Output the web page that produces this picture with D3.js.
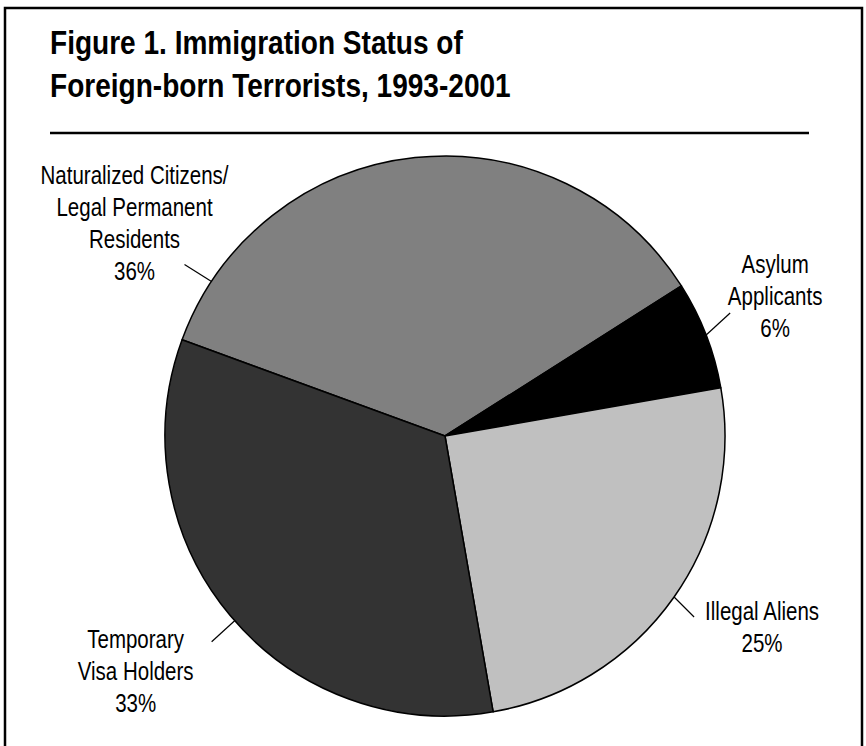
<!DOCTYPE html>
<html>
<head>
<meta charset="utf-8">
<script src="https://cdn.jsdelivr.net/npm/d3@7"></script>
<style>
  html, body { margin: 0; padding: 0; background: #fff; }
  svg { display: block; }
</style>
</head>
<body>
<div id="graph-container"></div>
<script>

// ---- data ----
var categories = ['Naturalized Citizens/|Legal Permanent|Residents', 'Asylum|Applicants', 'Illegal Aliens', 'Temporary|Visa Holders'];
var counts = [17, 3, 12, 16];
var pct_labels = ['36%', '6%', '25%', '33%'];
var fills = ['#808080', '#000000', '#c0c0c0', '#333333'];

var title_lines = ['Figure 1. Immigration Status of', 'Foreign-born Terrorists, 1993-2001'];

// ---- layout ----
var w = 866, h = 746;
var cx = 445, cy = 436, radius = 280;
var start_deg = -69.9;
var line_h = 32;
var narrow = 0.82;   // no narrow face installed, squeeze the regular one

// leader start angle (deg, null = slice middle), leader vector, label block offset from leader end
var label_layout = [
    {angle: -56.5, lx: -27, ly: -17, dx: -50, dy: -41},
    {angle: null,  lx: 24,  ly: -22, dx: 45,  dy: -17},
    {angle: null,  lx: 20,  ly: 20,  dx: 68,  dy: 10},
    {angle: 228.7, lx: -23, ly: 21,  dx: -76, dy: 29}
];

var font = '"Liberation Sans Narrow", "Arial Narrow", "Liberation Sans", Arial, sans-serif';

var svg = d3.select('#graph-container').append('svg')
    .attr('width', w).attr('height', h)
    .attr('xmlns', 'http://www.w3.org/2000/svg');

// frame
svg.append('rect')
    .attr('x', 5).attr('y', 8)
    .attr('width', 857).attr('height', 760)
    .attr('fill', 'none').attr('stroke', '#000').attr('stroke-width', 2.5);

// title
svg.append('g').selectAll('g').data(title_lines).enter()
    .append('g')
    .attr('transform', (d, i) => `translate(50,${54 + i * 43}) scale(0.85,1)`)
    .append('text')
    .attr('font-family', font)
    .attr('font-weight', 'bold')
    .attr('font-size', 33)
    .attr('fill', '#000')
    .text(d => d);

svg.append('line')
    .attr('x1', 50).attr('x2', 809)
    .attr('y1', 133).attr('y2', 133)
    .attr('stroke', '#000').attr('stroke-width', 2.5);

// pie
var rad = Math.PI / 180;
var pie = d3.pie().sort(null).value(d => d)
    .startAngle(start_deg * rad).endAngle((start_deg + 360) * rad);
var arcs = pie(counts);
var arc = d3.arc().innerRadius(0).outerRadius(radius);

var g = svg.append('g').attr('transform', `translate(${cx},${cy})`);

g.selectAll('path').data(arcs).enter()
    .append('path')
    .attr('d', arc)
    .attr('fill', (d, i) => fills[i])
    .attr('stroke', '#000')
    .attr('stroke-width', 1.5)
    .attr('stroke-linejoin', 'round');

// labels with leader lines
arcs.forEach((a, i) => {
    var lay = label_layout[i];
    var ang = lay.angle !== null ? lay.angle * rad : (a.startAngle + a.endAngle) / 2;
    var x0 = Math.sin(ang) * radius, y0 = -Math.cos(ang) * radius;
    var x1 = x0 + lay.lx, y1 = y0 + lay.ly;

    g.append('line')
        .attr('x1', x0).attr('y1', y0).attr('x2', x1).attr('y2', y1)
        .attr('stroke', '#000').attr('stroke-width', 1.2);

    var lines = categories[i].split('|').concat([pct_labels[i]]);
    var top = -(lines.length - 1) * line_h / 2;

    g.append('g')
        .attr('transform', `translate(${x1 + lay.dx},${y1 + lay.dy}) scale(${narrow},1)`)
        .append('text')
        .attr('font-family', font)
        .attr('font-size', 25)
        .attr('fill', '#000')
        .attr('text-anchor', 'middle')
        .selectAll('tspan').data(lines).enter()
        .append('tspan')
        .attr('x', 0)
        .attr('y', (d, j) => top + j * line_h)
        .attr('dy', '0.35em')
        .text(d => d);
});

</script>
</body>
</html>
